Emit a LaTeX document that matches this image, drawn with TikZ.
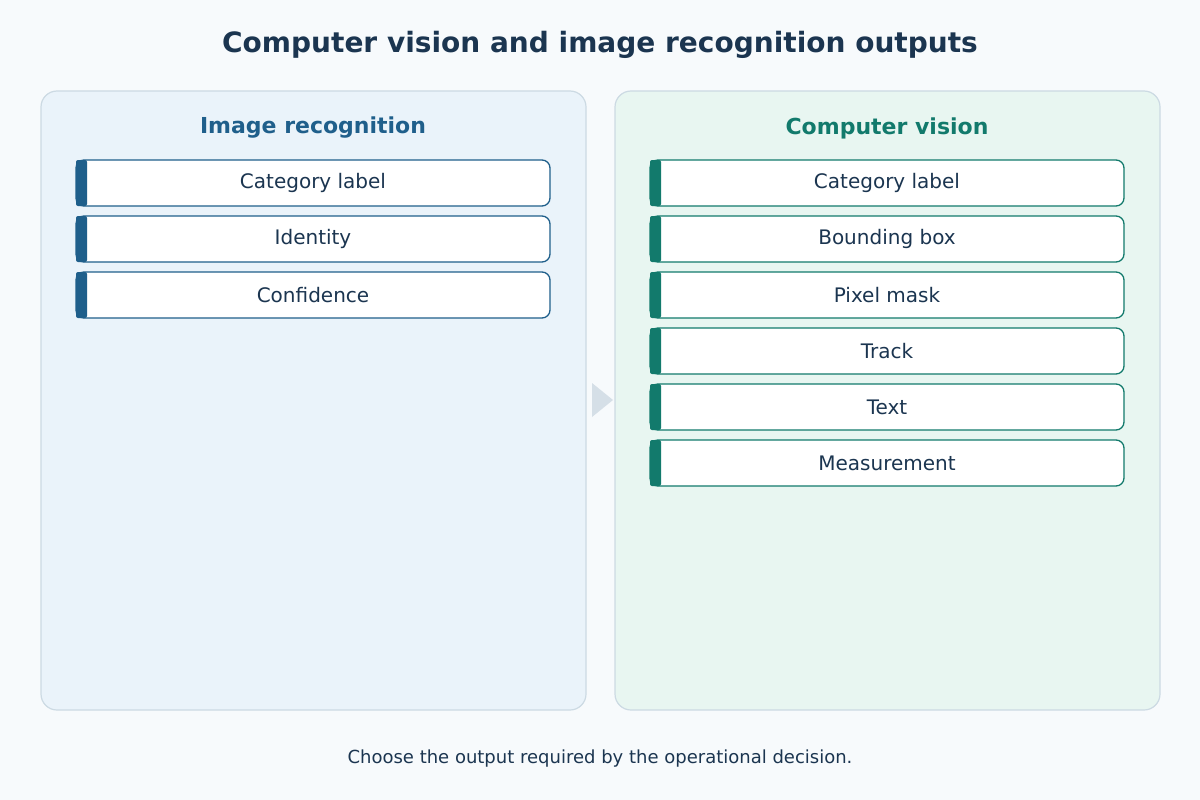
\documentclass[tikz,border=0pt]{standalone}
\usepackage{fontspec}
\setmainfont{DejaVu Sans}
\begin{document}
\definecolor{bg}{HTML}{F7FAFC}
\definecolor{ink}{HTML}{1B3550}
\definecolor{blueA}{HTML}{1F5F8B}
\definecolor{tealA}{HTML}{127A6C}
\definecolor{pbl}{HTML}{EAF3FA}
\definecolor{pgr}{HTML}{E8F6F1}
\definecolor{pbd}{HTML}{CCDAE3}
\definecolor{arr}{HTML}{D5DFE7}
\begin{tikzpicture}[x=1pt,y=-1pt,
 panel/.style={draw=pbd,line width=1.2pt,rounded corners=16pt},
 item/.style={draw=#1,fill=white,line width=1.3pt,rounded corners=8pt,minimum width=474pt,minimum height=46pt,font=\fontsize{20}{24}\selectfont,text=ink,inner sep=0pt},
 bar/.style={fill=#1,rounded corners=2pt}]
\useasboundingbox[fill=bg] (0,0) rectangle (1200,800);
\node[font=\bfseries\fontsize{28}{32}\selectfont,text=ink] (title) at (600,45) {Computer vision and image recognition outputs};
\draw[panel,fill=pbl] (41,91) rectangle (586,710);
\draw[panel,fill=pgr] (615,91) rectangle (1160,710);
\node[font=\bfseries\fontsize{22}{26}\selectfont,text=blueA] (hl) at (313,128) {Image recognition};
\node[font=\bfseries\fontsize{22}{26}\selectfont,text=tealA] (hr) at (887,128) {Computer vision};
\fill[arr] (592,383) -- (613,400) -- (592,417) -- cycle;
\foreach \t [count=\i] in {Category label,Identity,Confidence}{
  \node[item=blueA] (l\i) at (313,{183+56*(\i-1)}) {\t};
  \fill[bar=blueA] (76,{160+56*(\i-1)}) rectangle (87,{206+56*(\i-1)});
}
\foreach \t [count=\i] in {Category label,Bounding box,Pixel mask,Track,Text,Measurement}{
  \node[item=tealA] (r\i) at (887,{183+56*(\i-1)}) {\t};
  \fill[bar=tealA] (650,{160+56*(\i-1)}) rectangle (661,{206+56*(\i-1)});
}
\node[font=\fontsize{18}{22}\selectfont,text=ink] (foot) at (600,759) {Choose the output required by the operational decision.};
\end{tikzpicture}
\end{document}
